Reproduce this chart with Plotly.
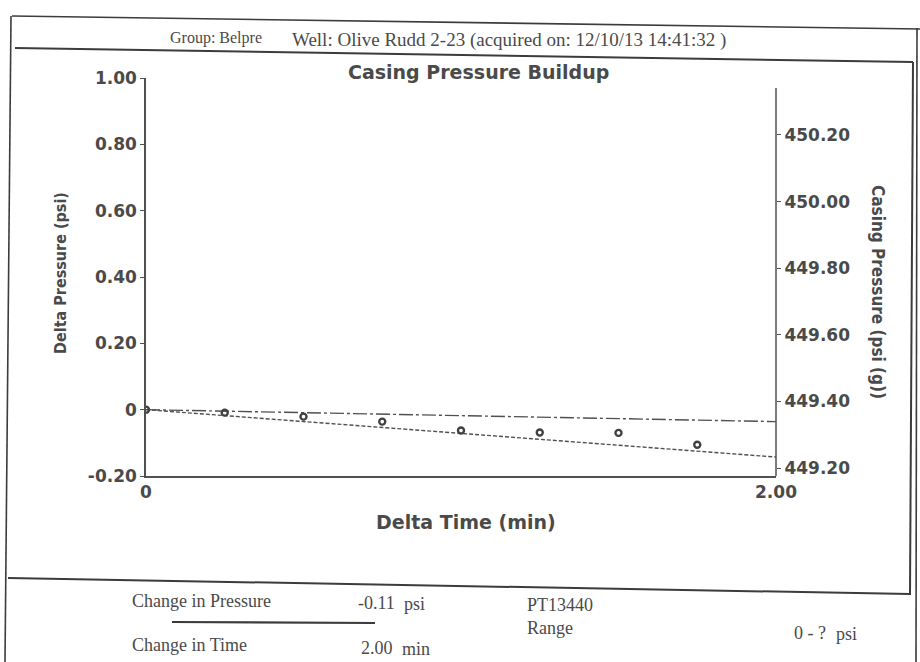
import plotly.graph_objects as go

W, H = 920, 662
L, R, T, B = 146, 776, 78, 476  # plot area in pixels

# ---- data ----
time_min = [0, 0.25, 0.5, 0.75, 1.0, 1.25, 1.5, 1.75]
delta_psi = [0, -0.009, -0.021, -0.036, -0.063, -0.069, -0.070, -0.106]
trend_time = [0, 2.0]
trend_psi = [0, -0.143]
ref_time = [0, 2.0]
ref_psi = [0, -0.036]

left_ticks = [-0.2, 0, 0.2, 0.4, 0.6, 0.8, 1.0]
left_labels = ["-0.20", "0", "0.20", "0.40", "0.60", "0.80", "1.00"]
right_ticks = [449.2, 449.4, 449.6, 449.8, 450.0, 450.2]
right_labels = ["449.20", "449.40", "449.60", "449.80", "450.00", "450.20"]
x_ticks = [0, 2]
x_labels = ["0", "2.00"]

left_range = [-0.2, 1.0]
right_range = [449.176, 450.371]

INK = "#4a4a4a"
LINE = "#505050"


def px(x):
    return (x - L) / (R - L)


def py(y):
    return (B - y) / (B - T)


fig = go.Figure()
fig.add_trace(go.Scatter(x=ref_time, y=ref_psi, mode="lines",
                         line=dict(color=LINE, width=1.4, dash="14px,3px,3px,3px"),
                         showlegend=False, hoverinfo="skip"))
fig.add_trace(go.Scatter(x=trend_time, y=trend_psi, mode="lines",
                         line=dict(color=LINE, width=1.4, dash="4px,2px"),
                         showlegend=False, hoverinfo="skip"))
fig.add_trace(go.Scatter(x=time_min, y=delta_psi, mode="markers",
                         marker=dict(symbol="circle-open", size=6, color="#404040",
                                     line=dict(width=2.4, color="#404040")),
                         showlegend=False))
# invisible trace to activate right axis
fig.add_trace(go.Scatter(x=[0], y=[right_ticks[0]], yaxis="y2", mode="markers",
                         marker=dict(opacity=0), showlegend=False, hoverinfo="skip"))

tickfont = dict(family="DejaVu Sans", size=17, color=INK, weight="bold")

fig.update_layout(
    width=W, height=H,
    margin=dict(l=L, r=W - R, t=T, b=H - B),
    paper_bgcolor="white", plot_bgcolor="white",
    xaxis=dict(range=[0, 2], tickvals=x_ticks, ticktext=x_labels,
               showgrid=False, zeroline=False, showline=True,
               linecolor=LINE, linewidth=1.5, ticks="", tickfont=tickfont),
    yaxis=dict(range=left_range, tickvals=left_ticks, ticktext=left_labels,
               showgrid=False, zeroline=False, showline=True,
               linecolor=LINE, linewidth=1.5, ticks="outside", ticklen=4,
               tickcolor=LINE, tickfont=tickfont),
    yaxis2=dict(range=right_range, tickvals=right_ticks, ticktext=right_labels,
                overlaying="y", side="right", showgrid=False, zeroline=False,
                showline=False, ticks="outside", ticklen=4, tickcolor=LINE,
                tickfont=tickfont),
)

shapes = []
# right axis line
shapes.append(dict(type="line", xref="paper", yref="paper",
                   x0=1, x1=1, y0=0, y1=py(88),
                   line=dict(color=LINE, width=1.5)))


def seg(x0, y0, x1, y1, w=1.6):
    shapes.append(dict(type="line", xref="paper", yref="paper",
                       x0=px(x0), y0=py(y0), x1=px(x1), y1=py(y1),
                       line=dict(color="#3c3c3c", width=w)))


# scanned page frame
seg(12, 16, 920, 29)          # top
seg(15, 48, 913, 62, 2)       # header underline
seg(11, 16, 5, 662)           # left
seg(913, 62, 910, 595, 2)     # inner right
seg(917, 28, 916, 662)        # outer right
seg(8, 578, 910, 594, 2)      # bottom of chart box
seg(172, 622, 375, 623, 2.2)  # short rule under change in pressure
fig.update_layout(shapes=shapes)

ann = []


def text(x, y, s, size, family, xanchor="left", angle=0, weight="normal", color=INK):
    ann.append(dict(x=px(x), y=py(y), xref="paper", yref="paper", text=s,
                    showarrow=False, xanchor=xanchor, yanchor="middle",
                    textangle=angle,
                    font=dict(family=family, size=size, color=color, weight=weight)))


SERIF = "Liberation Serif"
text(168, 38, "Group: Belpre", 16, SERIF)
text(290, 40, "Well: Olive Rudd 2-23 (acquired on: 12/10/13 14:41:32 )", 19, SERIF)
text(478, 72, "Casing Pressure Buildup", 19, "DejaVu Sans", "center", weight="bold")
text(466, 522, "Delta Time (min)", 19, "DejaVu Sans", "center", weight="bold")
text(60, 273, "Delta Pressure (psi)", 16, "DejaVu Sans Condensed", "center", angle=-90, weight="bold")
text(878, 292, "Casing Pressure (psi (g))", 17, "DejaVu Sans Condensed", "center", angle=90, weight="bold")

text(130, 601, "Change in Pressure", 18, SERIF)
text(356, 603, "-0.11", 18, SERIF)
text(402, 604, "psi", 18, SERIF)
text(525, 605, "PT13440", 18, SERIF)
text(525, 628, "Range", 18, SERIF)
text(792, 633, "0 - ?", 18, SERIF)
text(834, 634, "psi", 18, SERIF)
text(130, 645, "Change in Time", 18, SERIF)
text(359, 648, "2.00", 18, SERIF)
text(400, 649, "min", 18, SERIF)

fig.update_layout(annotations=ann)
fig.write_html("out.html", config={"displayModeBar": False},
               post_script="document.body.style.margin='0px';document.body.style.padding='0px';")
